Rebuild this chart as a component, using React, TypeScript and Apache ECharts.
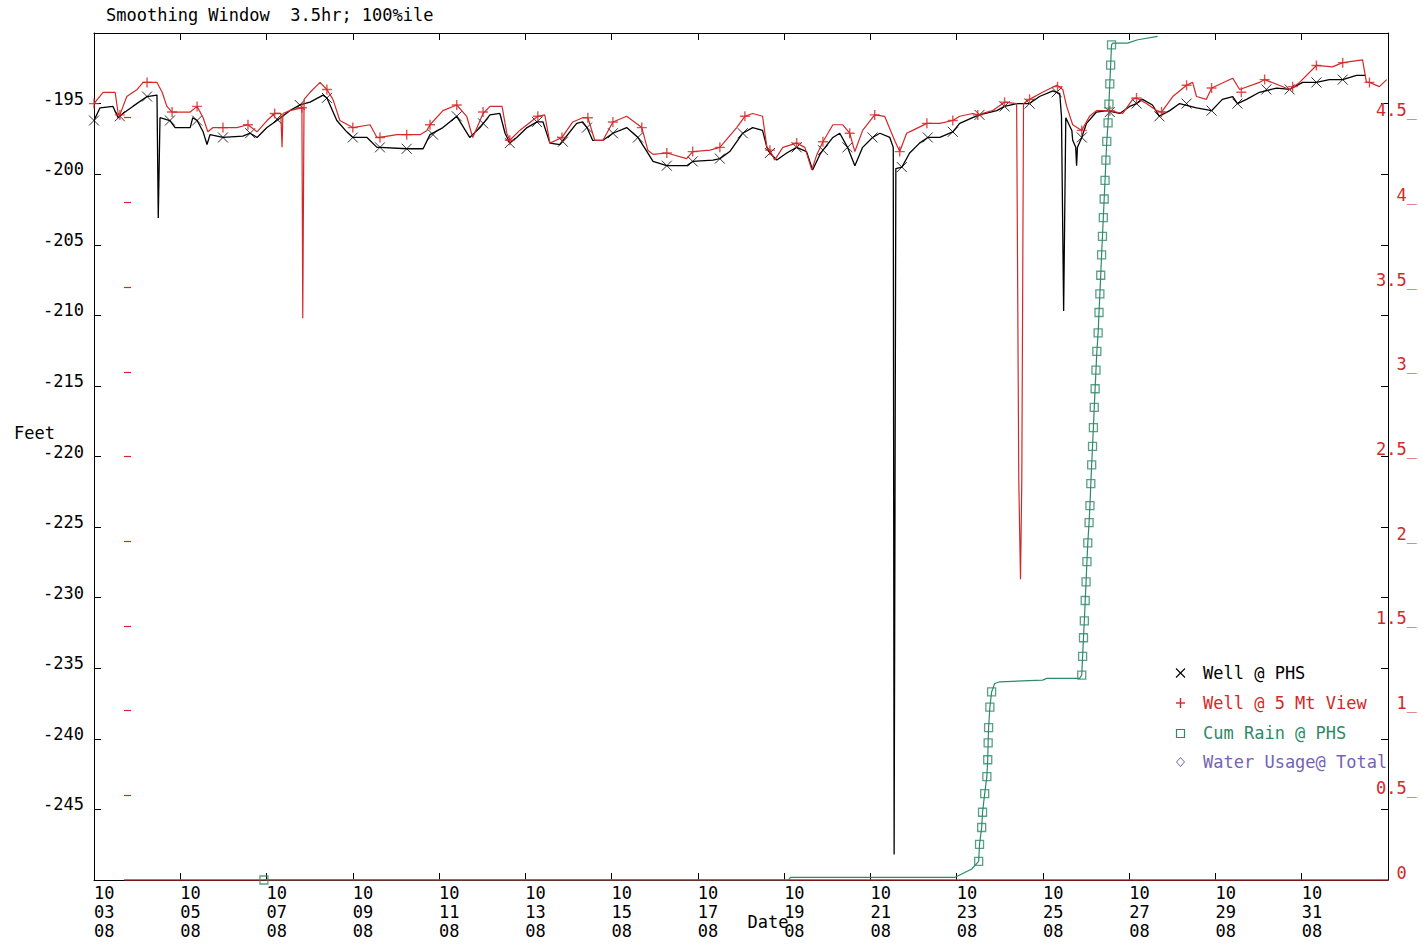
import React, { useEffect, useRef } from "react";
import * as echarts from "echarts";

const TITLE = "Smoothing Window  3.5hr; 100%ile";
const Y_NAME = "Feet";
const X_NAME = "Date";

// x values are days after 10/03/08 00:00
const xTickLabels = [
  "10\n03\n08", "10\n05\n08", "10\n07\n08", "10\n09\n08", "10\n11\n08",
  "10\n13\n08", "10\n15\n08", "10\n17\n08", "10\n19\n08", "10\n21\n08",
  "10\n23\n08", "10\n25\n08", "10\n27\n08", "10\n29\n08", "10\n31\n08",
];

const legendNames = ["Well @ PHS", "Well @ 5 Mt View", "Cum Rain @ PHS", "Water Usage@ Total"];

// Well @ PHS (feet)
const wellPhsLine: [number, number][] = [
  [0, -196.2], [0.14, -195.3], [0.44, -195.2], [0.56, -196.0], [0.67, -195.7], [0.9, -195.2], [1.23, -194.5],
  [1.46, -194.4], [1.47, -194.4], [1.49, -203.1], [1.53, -196.0], [1.76, -196.2], [1.88, -196.7], [2.23, -196.7],
  [2.29, -196.0], [2.39, -196.2], [2.53, -197.0], [2.62, -197.9], [2.69, -197.2], [2.99, -197.4], [3.45, -197.3],
  [3.62, -197.1], [3.78, -197.4], [4.01, -196.7], [4.24, -196.2], [4.54, -195.5], [4.77, -195.1], [5.01, -194.9],
  [5.31, -194.4], [5.4, -194.6], [5.63, -196.2], [5.86, -197.0], [6.0, -197.4], [6.33, -197.4], [6.56, -198.1],
  [6.63, -198.1], [7.25, -198.2], [7.63, -198.2], [7.79, -197.2], [8.09, -196.7], [8.41, -195.9], [8.71, -197.4],
  [8.95, -196.7], [9.18, -195.8], [9.41, -195.7], [9.53, -197.1], [9.64, -197.8], [9.8, -197.4], [10.04, -196.7],
  [10.27, -196.3], [10.41, -196.3], [10.57, -197.8], [10.8, -197.9], [11.19, -196.4], [11.33, -196.3], [11.43, -196.7],
  [11.56, -197.6], [11.8, -197.6], [12.03, -197.1], [12.35, -196.7], [12.61, -197.4], [12.82, -198.4], [12.96, -199.1],
  [13.28, -199.4], [13.74, -199.4], [13.88, -199.1], [14.35, -199.0], [14.51, -198.9], [14.74, -198.4], [15.04, -197.1],
  [15.27, -196.7], [15.5, -196.9], [15.6, -198.1], [15.67, -198.5], [15.83, -199.0], [16.06, -198.5], [16.29, -198.1],
  [16.52, -198.4], [16.66, -199.7], [16.83, -198.6], [16.9, -198.3], [17.13, -197.4], [17.29, -197.1], [17.47, -198.1],
  [17.64, -199.4], [17.82, -198.1], [18.05, -197.4], [18.22, -197.1], [18.45, -197.4], [18.53, -198.1], [18.55, -248.2],
  [18.59, -199.6], [18.73, -199.5], [18.91, -198.5], [19.14, -197.8], [19.33, -197.4], [19.61, -197.4], [19.91, -197.0],
  [20.07, -196.4], [20.37, -196.0], [20.53, -195.8], [20.93, -195.5], [21.11, -195.2], [21.39, -195.0], [21.69, -195.0],
  [21.92, -194.5], [22.23, -194.1], [22.39, -194.3], [22.43, -195.9], [22.48, -209.7], [22.53, -196.0], [22.67, -196.9],
  [22.69, -197.6], [22.76, -198.1], [22.78, -199.4], [22.8, -198.1], [22.9, -197.4], [23.01, -196.4], [23.24, -195.6],
  [23.48, -195.5], [23.78, -195.7], [24.01, -195.2], [24.17, -195.0], [24.31, -194.7], [24.54, -195.1], [24.7, -195.9],
  [24.94, -195.5], [25.17, -195.0], [25.56, -195.3], [25.91, -195.5], [26.16, -194.7], [26.4, -194.5], [26.51, -195.0],
  [26.72, -194.7], [27.02, -194.2], [27.42, -193.9], [27.72, -194.0], [28.02, -193.5], [28.34, -193.5], [28.64, -193.3],
  [28.95, -193.3], [29.27, -193.0], [29.48, -193.0],
];

const wellPhsMarks: [number, number][] = [
  [0, -196.2], [0.6, -195.9], [1.23, -194.5], [1.76, -196.2], [2.39, -196.2], [2.99, -197.4], [3.62, -197.1],
  [4.24, -196.1], [4.77, -195.1], [5.4, -194.6], [6.0, -197.4], [6.63, -198.1], [7.25, -198.2], [7.86, -197.2],
  [8.41, -195.9], [9.02, -196.4], [9.64, -197.8], [10.27, -196.3], [10.87, -197.7], [11.43, -196.7], [12.03, -197.1],
  [12.61, -197.4], [13.28, -199.4], [13.88, -199.1], [14.51, -198.9], [15.04, -197.1], [15.67, -198.5], [16.29, -198.1],
  [16.9, -198.3], [17.47, -198.1], [18.05, -197.4], [18.73, -199.5], [19.33, -197.4], [19.91, -197.0], [20.53, -195.8],
  [21.11, -195.2], [21.69, -195.0], [22.32, -194.2], [22.9, -197.4], [23.55, -195.6], [24.17, -195.0], [24.7, -195.9],
  [25.33, -195.0], [25.91, -195.5], [26.51, -195.0], [27.18, -194.0], [27.72, -194.0], [28.34, -193.5], [28.95, -193.3],
];

// Well @ 5 Mt View (feet)
const wellMtViewLine: [number, number][] = [
  [0, -195.0], [0.21, -194.2], [0.49, -194.2], [0.56, -195.7], [0.6, -195.8], [0.76, -194.5], [1.0, -194.0],
  [1.14, -193.5], [1.46, -193.5], [1.58, -194.2], [1.69, -195.2], [1.81, -195.6], [2.23, -195.6], [2.39, -195.2],
  [2.53, -196.0], [2.64, -197.0], [2.76, -196.7], [3.31, -196.7], [3.57, -196.5], [3.78, -197.0], [4.01, -196.2],
  [4.19, -195.7], [4.33, -195.7], [4.36, -198.1], [4.38, -195.7], [4.54, -195.5], [4.82, -195.3], [4.84, -210.2],
  [4.87, -194.7], [5.01, -194.2], [5.24, -193.5], [5.4, -194.0], [5.54, -194.7], [5.7, -196.2], [6.0, -196.7],
  [6.4, -196.5], [6.56, -197.4], [6.63, -197.4], [7.02, -197.2], [7.25, -197.2], [7.56, -197.2], [7.72, -196.9],
  [7.79, -196.5], [8.09, -195.5], [8.41, -195.1], [8.64, -195.9], [8.78, -197.4], [9.02, -195.7], [9.18, -195.2],
  [9.46, -195.2], [9.57, -197.1], [9.64, -197.6], [9.87, -196.9], [10.29, -195.9], [10.45, -195.8], [10.57, -197.8],
  [10.85, -197.4], [11.1, -196.3], [11.33, -196.0], [11.45, -196.0], [11.61, -197.6], [11.8, -197.6], [12.03, -196.3],
  [12.35, -195.9], [12.7, -196.7], [12.84, -198.3], [12.96, -198.6], [13.28, -198.5], [13.74, -198.9], [13.88, -198.4],
  [14.28, -198.3], [14.51, -198.1], [14.9, -196.7], [15.09, -195.9], [15.27, -195.7], [15.5, -195.9], [15.6, -198.1],
  [15.67, -198.3], [15.78, -199.0], [15.97, -198.1], [16.29, -197.8], [16.48, -198.1], [16.64, -199.7], [16.76, -198.6],
  [16.9, -197.7], [17.13, -196.5], [17.36, -196.5], [17.52, -197.1], [17.64, -198.4], [17.82, -196.9], [18.1, -195.8],
  [18.33, -195.9], [18.56, -197.6], [18.68, -198.4], [18.84, -197.1], [18.98, -196.9], [19.31, -196.4], [19.61, -196.4],
  [19.91, -196.2], [20.07, -195.9], [20.37, -195.7], [20.49, -195.8], [20.83, -195.5], [21.11, -194.9], [21.39, -195.0],
  [21.44, -221.7], [21.48, -228.7], [21.51, -221.7], [21.55, -195.0], [21.69, -194.7], [21.99, -194.2], [22.32, -193.7],
  [22.46, -194.0], [22.55, -195.2], [22.69, -196.5], [22.9, -196.9], [23.08, -195.9], [23.24, -195.5], [23.55, -195.5],
  [23.85, -195.7], [24.08, -194.7], [24.17, -194.6], [24.4, -195.0], [24.64, -195.5], [24.75, -195.6], [25.01, -194.5],
  [25.33, -193.7], [25.47, -193.5], [25.56, -194.5], [25.79, -194.7], [25.91, -193.9], [26.4, -193.2], [26.56, -194.0],
  [27.02, -193.5], [27.14, -193.3], [27.72, -194.0], [27.95, -193.5], [28.34, -192.3], [28.71, -192.4], [28.95, -192.1],
  [29.41, -191.9], [29.5, -193.5], [29.57, -193.5], [29.8, -193.8], [29.97, -193.3],
];

const wellMtViewMarks: [number, number][] = [
  [0, -195.0], [0.6, -195.8], [1.23, -193.5], [1.81, -195.6], [2.39, -195.2], [2.99, -196.7], [3.57, -196.5],
  [4.19, -195.7], [4.82, -195.3], [5.4, -194.0], [6.0, -196.7], [6.63, -197.4], [7.25, -197.2], [7.79, -196.5],
  [8.41, -195.1], [9.02, -195.6], [9.64, -197.6], [10.29, -195.9], [10.85, -197.4], [11.45, -196.0], [12.03, -196.3],
  [12.7, -196.7], [13.28, -198.5], [13.88, -198.4], [14.51, -198.1], [15.09, -195.9], [15.67, -198.3], [16.29, -197.8],
  [16.9, -197.7], [17.52, -197.1], [18.1, -195.8], [18.68, -198.4], [19.31, -196.4], [19.91, -196.2], [20.49, -195.8],
  [21.11, -194.9], [21.69, -194.7], [22.34, -193.8], [22.9, -196.9], [23.55, -195.5], [24.17, -194.6], [24.75, -195.6],
  [25.33, -193.7], [25.91, -193.9], [26.6, -194.2], [27.14, -193.3], [27.79, -193.8], [28.34, -192.3], [28.95, -192.1],
  [29.57, -193.5],
];

// Cum Rain @ PHS (inches, right axis): recorded readings
const rainReadings: [number, number][] = [
  [3.94, 0],
  [20.51, 0.11], [20.53, 0.21], [20.58, 0.31], [20.6, 0.4], [20.65, 0.51], [20.7, 0.61], [20.72, 0.71],
  [20.73, 0.81], [20.74, 0.9], [20.77, 1.02], [20.81, 1.11],
  [22.9, 1.21], [22.92, 1.32], [22.94, 1.43], [22.96, 1.53], [22.98, 1.65], [23.0, 1.76], [23.02, 1.88],
  [23.04, 1.99], [23.07, 2.11], [23.09, 2.21], [23.11, 2.34], [23.13, 2.45], [23.15, 2.56], [23.17, 2.67],
  [23.19, 2.79], [23.21, 2.9], [23.23, 3.01], [23.25, 3.12], [23.28, 3.23], [23.3, 3.35], [23.32, 3.46],
  [23.34, 3.57], [23.36, 3.69], [23.38, 3.8], [23.4, 3.91], [23.42, 4.02], [23.44, 4.13], [23.46, 4.25],
  [23.48, 4.36], [23.51, 4.47], [23.53, 4.58], [23.55, 4.7], [23.57, 4.81], [23.59, 4.93],
];
// Cum Rain @ PHS: intermediate values between readings
const rainBetween: [number, number][] = [
  [16.1, 0], [16.15, 0.015], [19.95, 0.015], [20.07, 0.03], [20.35, 0.065],
  [20.88, 1.16], [21.0, 1.17], [21.99, 1.18], [22.09, 1.19], [22.85, 1.19],
  [23.62, 4.94], [23.96, 4.94], [24.2, 4.96], [24.66, 4.98],
];
// zero line of the right-hand scale
const rainZero: [number, number][] = [[0.7, 0], [30, 0]];

const y2TickValues = [0.5, 1, 1.5, 2, 2.5, 3, 3.5, 4, 4.5];

const MONO = '"DejaVu Sans Mono", "Liberation Mono", monospace';
const RED = "#d42828";
const GREEN = "#2e8a68";
const PURPLE = "#7463b8";
const BLACK = "#000000";

const X_PATH = "path://M0,0L10,10M10,0L0,10";
const PLUS_PATH = "path://M5,0L5,10M0,5L10,5";

function buildOption() {
  const rainLine = [...rainReadings, ...rainBetween].sort((a, b) => a[0] - b[0]);
  const legendColors = [BLACK, RED, GREEN, PURPLE];
  const legendY = [673, 703, 733, 762];

  const legendGraphics: any[] = [];
  legendNames.forEach((name, i) => {
    const y = legendY[i];
    const c = legendColors[i];
    if (i === 0) {
      legendGraphics.push(
        { type: "line", shape: { x1: 1176, y1: y - 4.5, x2: 1185, y2: y + 4.5 }, style: { stroke: c, lineWidth: 1.1 } },
        { type: "line", shape: { x1: 1176, y1: y + 4.5, x2: 1185, y2: y - 4.5 }, style: { stroke: c, lineWidth: 1.1 } }
      );
    } else if (i === 1) {
      legendGraphics.push(
        { type: "line", shape: { x1: 1180.5, y1: y - 5, x2: 1180.5, y2: y + 5 }, style: { stroke: c, lineWidth: 1.4 } },
        { type: "line", shape: { x1: 1176, y1: y, x2: 1185, y2: y }, style: { stroke: c, lineWidth: 1.4 } }
      );
    } else if (i === 2) {
      legendGraphics.push({
        type: "rect",
        shape: { x: 1176.5, y: y - 3.5, width: 8, height: 8 },
        style: { fill: "none", stroke: c, lineWidth: 1.2 },
      });
    } else {
      legendGraphics.push({
        type: "polygon",
        shape: { points: [[1180.5, y - 4.5], [1184.5, y], [1180.5, y + 4.5], [1176.5, y]] },
        style: { fill: "none", stroke: c, lineWidth: 1 },
      });
    }
    legendGraphics.push({
      type: "text",
      x: 1203,
      y,
      style: { text: name, fill: c, fontSize: 17, fontFamily: MONO, verticalAlign: "middle", align: "left" },
    });
  });

  const textBase = { fontFamily: MONO, fontSize: 17, color: BLACK };

  return {
    animation: false,
    backgroundColor: "#ffffff",
    title: {
      text: TITLE,
      left: 106,
      top: 6,
      padding: 0,
      textStyle: { ...textBase, fontWeight: "normal" },
    },
    grid: { left: 94, right: 35, top: 33, bottom: 64, containLabel: false, outerBoundsMode: "none" },
    xAxis: [
      {
        type: "value",
        position: "bottom",
        min: 0,
        max: 30,
        interval: 2,
        name: X_NAME,
        nameLocation: "middle",
        nameGap: 33,
        nameMoveOverlap: false,
        nameTextStyle: { ...textBase, padding: [0, 0, 0, 54] },
        axisLine: { show: true, onZero: false, lineStyle: { color: BLACK, width: 1 } },
        axisTick: { show: true, inside: true, length: 7, lineStyle: { color: BLACK } },
        axisLabel: {
          ...textBase,
          formatter: (v: number) => xTickLabels[Math.round(v / 2)] ?? "",
          align: "left",
          verticalAlign: "top",
          margin: 3,
          lineHeight: 19,
          showMaxLabel: false,
        },
        splitLine: { show: false },
      },
      {
        type: "value",
        position: "top",
        min: 0,
        max: 30,
        interval: 2,
        axisLine: { show: true, onZero: false, lineStyle: { color: BLACK, width: 1 } },
        axisTick: { show: true, inside: true, length: 7, lineStyle: { color: BLACK } },
        axisLabel: { show: false },
        splitLine: { show: false },
      },
    ],
    yAxis: [
      {
        type: "value",
        position: "left",
        min: -250,
        max: -190,
        interval: 5,
        name: Y_NAME,
        nameLocation: "middle",
        nameRotate: 0,
        nameGap: 39,
        nameMoveOverlap: false,
        nameTextStyle: { ...textBase, verticalAlign: "bottom", lineHeight: 47, align: "right" },
        axisLine: { show: true, onZero: false, lineStyle: { color: BLACK, width: 1 } },
        axisTick: { show: true, inside: true, length: 7, lineStyle: { color: BLACK } },
        axisLabel: {
          ...textBase,
          margin: 10,
          verticalAlign: "bottom",
          lineHeight: 10,
          showMinLabel: false,
          showMaxLabel: false,
        },
        splitLine: { show: false },
      },
      {
        type: "value",
        position: "right",
        min: -250,
        max: -190,
        interval: 5,
        axisLine: { show: true, onZero: false, lineStyle: { color: BLACK, width: 1 } },
        axisTick: { show: true, inside: true, length: 7, lineStyle: { color: BLACK } },
        axisLabel: { show: false },
        splitLine: { show: false },
      },
      {
        type: "value",
        position: "right",
        min: 0,
        max: 5,
        interval: 0.5,
        axisLine: { show: false },
        axisTick: { show: false },
        axisLabel: {
          fontFamily: MONO,
          fontSize: 17,
          color: RED,
          align: "right",
          verticalAlign: "bottom",
          lineHeight: 15,
          margin: 29,
          showMaxLabel: false,
          formatter: (v: number) => (v === 0 ? "0\u00a0" : `${v}_`),
        },
        splitLine: { show: false },
      },
      {
        type: "value",
        position: "left",
        offset: -30,
        min: 0,
        max: 5,
        interval: 0.5,
        axisLine: { show: false },
        axisTick: { show: true, inside: true, length: 7, customValues: y2TickValues, lineStyle: { color: RED, width: 1.2 } },
        axisLabel: { show: false },
        splitLine: { show: false },
      },
    ],
    graphic: legendGraphics,
    series: [
      {
        name: "y2 zero",
        type: "line",
        xAxisIndex: 0,
        yAxisIndex: 3,
        data: rainZero,
        symbol: "none",
        lineStyle: { color: RED, width: 1.5 },
        z: 1,
      },
      {
        name: legendNames[0],
        type: "line",
        xAxisIndex: 0,
        yAxisIndex: 0,
        data: wellPhsLine,
        symbol: "none",
        lineStyle: { color: BLACK, width: 1.3 },
        z: 2,
      },
      {
        name: legendNames[0] + " marks",
        type: "scatter",
        xAxisIndex: 0,
        yAxisIndex: 0,
        data: wellPhsMarks,
        symbol: X_PATH,
        symbolSize: 10,
        itemStyle: { color: "rgba(0,0,0,0)", borderColor: BLACK, borderWidth: 1 },
        z: 3,
      },
      {
        name: legendNames[1],
        type: "line",
        xAxisIndex: 0,
        yAxisIndex: 0,
        data: wellMtViewLine,
        symbol: "none",
        lineStyle: { color: RED, width: 1.2 },
        z: 4,
      },
      {
        name: legendNames[1] + " marks",
        type: "scatter",
        xAxisIndex: 0,
        yAxisIndex: 0,
        data: wellMtViewMarks,
        symbol: PLUS_PATH,
        symbolSize: 10,
        itemStyle: { color: "rgba(0,0,0,0)", borderColor: RED, borderWidth: 1.4 },
        z: 5,
      },
      {
        name: legendNames[2],
        type: "line",
        xAxisIndex: 0,
        yAxisIndex: 2,
        data: rainLine,
        symbol: "none",
        lineStyle: { color: GREEN, width: 1.2 },
        z: 6,
      },
      {
        name: legendNames[2] + " marks",
        type: "scatter",
        xAxisIndex: 0,
        yAxisIndex: 2,
        data: rainReadings,
        symbol: "rect",
        symbolSize: 8,
        itemStyle: { color: "rgba(0,0,0,0)", borderColor: GREEN, borderWidth: 1.3 },
        z: 7,
      },
    ],
  };
}

export default function App() {
  const ref = useRef<HTMLDivElement>(null);
  useEffect(() => {
    if (!ref.current) return;
    const chart = echarts.init(ref.current, null, { renderer: "svg" });
    chart.setOption(buildOption() as any);
    return () => chart.dispose();
  }, []);
  return (
    <div
      ref={ref}
      style={{ position: "absolute", left: 0, top: 0, width: 1423, height: 944, background: "#fff" }}
    />
  );
}
